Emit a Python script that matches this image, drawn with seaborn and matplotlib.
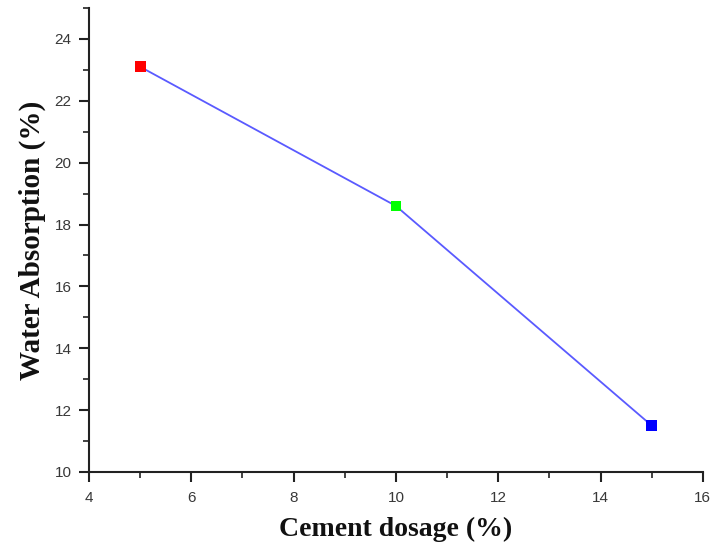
import matplotlib
matplotlib.use("Agg")
import matplotlib.pyplot as plt
import seaborn as sns
import pandas as pd
from matplotlib.ticker import MultipleLocator

# datos
cement_dosage = [5, 10, 15]
water_absorption = [23.1, 18.6, 11.5]
point_colors = ['#ff0000', '#00ff00', '#0000ff']

df = pd.DataFrame({'dosage': cement_dosage, 'absorption': water_absorption,
                   'label': ['a', 'b', 'c']})

sns.set_style('ticks')
fig = plt.figure(figsize=(7.15, 5.52), dpi=100)
ax = fig.add_axes([0.1245, 0.145, 0.8585, 0.8405])

sns.lineplot(data=df, x='dosage', y='absorption', color='#5a5aff', linewidth=1.3, ax=ax)
sns.scatterplot(data=df, x='dosage', y='absorption', hue='label', palette=point_colors,
                marker='s', s=60, edgecolor='none', legend=False, ax=ax, zorder=3)

ax.set_xlim(4, 16)
ax.set_ylim(10, 25)
ax.xaxis.set_major_locator(MultipleLocator(2))
ax.xaxis.set_minor_locator(MultipleLocator(1))
ax.yaxis.set_minor_locator(MultipleLocator(1))
ax.set_yticks([10, 12, 14, 16, 18, 20, 22, 24])

for side in ['top', 'right']:
    ax.spines[side].set_visible(False)
for side in ['left', 'bottom']:
    ax.spines[side].set_linewidth(1.5)
    ax.spines[side].set_color('#222222')

ax.tick_params(which='major', direction='out', length=7.5, width=1.5, color='#222222',
               labelsize=11, labelcolor='#383838')
ax.tick_params(which='minor', direction='out', length=4.5, width=1.2, color='#222222')
ax.tick_params(axis='x', which='major', pad=6)
ax.tick_params(axis='y', which='major', pad=5)
for lbl in ax.get_xticklabels() + ax.get_yticklabels():
    lbl.set_family('Liberation Sans')

ax.set_xlabel('Cement dosage (%)', fontsize=20, fontweight='bold',
              family='Liberation Serif', color='#111111', labelpad=9)
ax.set_ylabel('Water Absorption (%)', fontsize=21, fontweight='bold',
              family='Liberation Serif', color='#111111', labelpad=6)

plt.savefig('out.png', dpi=100)
plt.close()
